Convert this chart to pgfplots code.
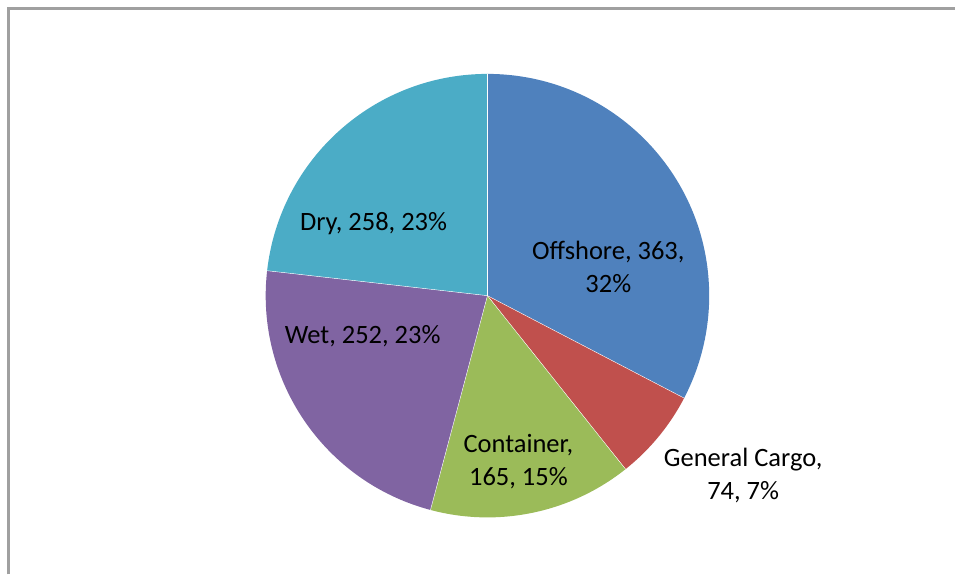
\documentclass[border=0pt]{standalone}
\usepackage{pgfplots}
\pgfplotsset{compat=1.18}
\usepackage{fontspec}
\setmainfont{Carlito}
\definecolor{cOff}{HTML}{4F81BD}
\definecolor{cGen}{HTML}{C0504D}
\definecolor{cCon}{HTML}{9BBB59}
\definecolor{cWet}{HTML}{8064A2}
\definecolor{cDry}{HTML}{4BACC6}
\definecolor{cFrame}{HTML}{A0A0A0}
% values: Offshore 363, General Cargo 74, Container 165, Wet 252, Dry 258
\def\cx{488}\def\cy{279}\def\R{222}
\pgfmathsetmacro{\tot}{363+74+165+252+258}
\pgfmathsetmacro{\aA}{90}
\pgfmathsetmacro{\aB}{\aA-360*(363/\tot)}
\pgfmathsetmacro{\aC}{\aB-360*(74/\tot)}
\pgfmathsetmacro{\aD}{\aC-360*(165/\tot)}
\pgfmathsetmacro{\aE}{\aD-360*(252/\tot)}
\pgfmathsetmacro{\aF}{\aE-360*(258/\tot)}
\newcommand{\slice}[3]{%
  \fill[#3] (axis cs:\cx,\cy) -- (axis cs:{\cx+\R*cos(#1)},{\cy+\R*sin(#1)}) arc[start angle=#1, end angle=#2, radius=\R pt] -- cycle;}
\newcommand{\edge}[1]{%
  \draw[white, line width=0.4pt] (axis cs:\cx,\cy) -- (axis cs:{\cx+\R*cos(#1)},{\cy+\R*sin(#1)});}
\begin{document}
\begin{tikzpicture}
\begin{axis}[
  at={(0,0)}, anchor=south west,
  scale only axis, width=956pt, height=575pt,
  xmin=0, xmax=956, ymin=0, ymax=575,
  hide axis, clip=false,
]
\slice{\aA}{\aB}{cOff}
\slice{\aB}{\aC}{cGen}
\slice{\aC}{\aD}{cCon}
\slice{\aD}{\aE}{cWet}
\slice{\aE}{\aF}{cDry}
\edge{\aA}\edge{\aB}\edge{\aC}\edge{\aD}\edge{\aE}
\node[align=center, font=\fontsize{26.5}{33}\selectfont, inner sep=0pt] at (axis cs:609,308) {Offshore, 363,\\32\%};
\node[align=center, font=\fontsize{26.5}{33}\selectfont, inner sep=0pt] at (axis cs:744,99) {General Cargo,\\74, 7\%};
\node[align=center, font=\fontsize{26.5}{33}\selectfont, inner sep=0pt] at (axis cs:519,113) {Container,\\165, 15\%};
\node[align=center, font=\fontsize{26.5}{33}\selectfont, inner sep=0pt] at (axis cs:363,238) {Wet, 252, 23\%};
\node[align=center, font=\fontsize{26.5}{33}\selectfont, inner sep=0pt] at (axis cs:374,351) {Dry, 258, 23\%};
\draw[cFrame, line width=2.2pt] (axis cs:8.5,0) -- (axis cs:8.5,566.5) -- (axis cs:956,566.5);
\end{axis}
\useasboundingbox (0,0) rectangle (956pt,575pt);
\end{tikzpicture}
\end{document}
